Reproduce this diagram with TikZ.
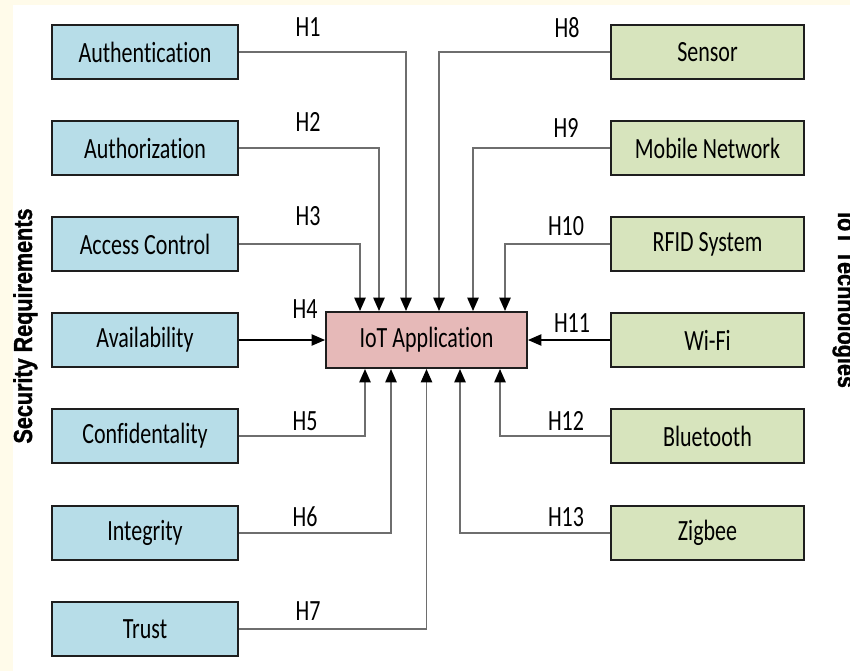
\documentclass[tikz,border=0pt]{standalone}
\usepackage{fontspec}
\setmainfont{Carlito}[FakeStretch=0.75, Ligatures={NoCommon}]
\newfontfamily\sidefont{Liberation Sans}[FakeStretch=0.83, BoldFeatures={FakeBold=1.2}]
\usetikzlibrary{arrows.meta,calc}

\definecolor{bgyellow}{HTML}{FFFBEA}
\definecolor{reqblue}{HTML}{B7DDE8}
\definecolor{techgreen}{HTML}{D7E4BD}
\definecolor{apppink}{HTML}{E6B9B8}
\definecolor{linkgray}{HTML}{6E6E6E}
\definecolor{boxedge}{HTML}{1E1E1E}

\begin{document}
\begin{tikzpicture}[x=0.75pt,y=-0.75pt,
  basebox/.style={draw=boxedge, line width=1.5pt, inner sep=0pt,
    minimum height=40.5pt, font=\fontsize{22}{24}\selectfont},
  reqbox/.style={basebox, fill=reqblue, minimum width=139.5pt},
  techbox/.style={basebox, fill=techgreen, minimum width=144.75pt},
  appbox/.style={basebox, fill=apppink, minimum width=150.75pt, minimum height=42pt},
  link/.style={draw=linkgray, line width=1.1pt,
    -{Triangle[length=10pt,width=8.5pt,color=black]}},
  straightlink/.style={link, draw=black, line width=0.8pt},
  hlabel/.style={inner sep=0pt, font=\fontsize{22}{24}\selectfont},
  sidelabel/.style={inner sep=0pt, anchor=base,
    font=\sidefont\bfseries\fontsize{19.5}{21}\selectfont}
]
% page background with a pale strip on the left and top
\fill[bgyellow] (0,0) rectangle (850,671);
\fill[white] (13,5) rectangle (850,671);
\useasboundingbox (0,0) rectangle (850,671);

% central application box
\node[appbox] (iot) at (426.5,340) {IoT Application};

% security requirements
\node[reqbox] (auth)  at (145,52)  {Authentication};
\node[reqbox] (authz) at (145,148) {Authorization};
\node[reqbox] (acc)   at (145,244) {Access Control};
\node[reqbox] (avail) at (145,340) {Availability};
\node[reqbox] (conf)  at (145,436) {Confidentality};
\node[reqbox] (integ) at (145,533) {Integrity};
\node[reqbox] (trust) at (145,629) {Trust};

% IoT technologies
\node[techbox] (sens)  at (707.5,52)  {Sensor};
\node[techbox] (mob)   at (707.5,148) {Mobile Network};
\node[techbox] (rfid)  at (707.5,244) {RFID System};
\node[techbox] (wifi)  at (707.5,340) {Wi-Fi};
\node[techbox] (blue)  at (707.5,436) {Bluetooth};
\node[techbox] (zig)   at (707.5,533) {Zigbee};

% connectors from the requirements
\draw[link] (auth.east)  -| ($(iot.north west)+(81,0)$);
\draw[link] (authz.east) -| ($(iot.north west)+(54,0)$);
\draw[link] (acc.east)   -| ($(iot.north west)+(35,0)$);
\draw[straightlink] (avail.east) -- (iot.west);
\draw[link] (conf.east)  -| ($(iot.south west)+(40,0)$);
\draw[link] (integ.east) -| ($(iot.south west)+(66,0)$);
\draw[link] (trust.east) -| (iot.south);

% connectors from the technologies
\draw[link] (sens.west) -| ($(iot.north west)+(114,0)$);
\draw[link] (mob.west)  -| ($(iot.north west)+(148,0)$);
\draw[link] (rfid.west) -| ($(iot.north west)+(180,0)$);
\draw[straightlink] (wifi.west) -- (iot.east);
\draw[link] (blue.west) -| ($(iot.south west)+(175,0)$);
\draw[link] (zig.west)  -| ($(iot.south west)+(135,0)$);

% hypothesis labels
\node[hlabel] (h1)  at (308,27)  {H1};
\node[hlabel] (h2)  at (308,122) {H2};
\node[hlabel] (h3)  at (308,216) {H3};
\node[hlabel] (h4)  at (305,309) {H4};
\node[hlabel] (h5)  at (305,421) {H5};
\node[hlabel] (h6)  at (305,517) {H6};
\node[hlabel] (h7)  at (308,611) {H7};
\node[hlabel] (h8)  at (567,28)  {H8};
\node[hlabel] (h9)  at (566,128) {H9};
\node[hlabel] (h10) at (566,226) {H10};
\node[hlabel] (h11) at (572,323) {H11};
\node[hlabel] (h12) at (566,421) {H12};
\node[hlabel] (h13) at (566,517) {H13};

% group titles
\node[sidelabel, rotate=90]  (sec)  at (32,326)  {Security Requirements};
\node[sidelabel, rotate=-90] (tech) at (838,300) {IoT Technologies};
\end{tikzpicture}
\end{document}
